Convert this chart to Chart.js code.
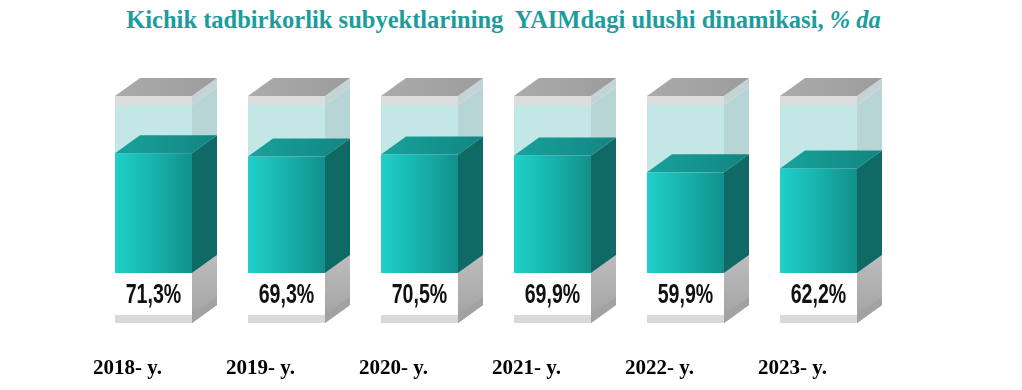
<!DOCTYPE html>
<html lang="uz">
<head>
<meta charset="UTF-8">
<script src="https://cdn.jsdelivr.net/npm/chart.js"></script>
<style>
body { margin: 0; background: #fff; }
.wrap { position: relative; width: 1022px; height: 390px; }
.title {
    position: absolute;
    top: 6px;
    left: 0;
    width: 1007px;
    text-align: center;
    font-family: "Liberation Serif", serif;
    font-weight: bold;
    font-size: 24.5px;
    color: #1c9d9d;
    white-space: pre;
}
canvas { position: absolute; top: 0; left: 0; }
</style>
</head>
<body>
<div class="wrap">
    <div class="title">Kichik tadbirkorlik subyektlarining  YAIMdagi ulushi dinamikasi, <i>% da</i></div>
    <canvas id="grafik" width="1022" height="390"></canvas>
</div>
<script>
const yillar = ['2018- y.', '2019- y.', '2020- y.', '2021- y.', '2022- y.', '2023- y.'];
const ulush = [71.3, 69.3, 70.5, 69.9, 59.9, 62.2];
const yorliqlar = ['71,3%', '69,3%', '70,5%', '69,9%', '59,9%', '62,2%'];

// 3D "idish" ustunlar
const kub = {
    id: 'kub',
    afterDatasetsDraw(chart) {
        const ctx = chart.ctx;
        const meta = chart.getDatasetMeta(0);
        const ys = chart.scales.y;
        const dx = 25, dy = 18;
        meta.data.forEach((bar, i) => {
            const p = bar.getProps(['x', 'y', 'base', 'width'], true);
            const L = Math.round(p.x - p.width / 2), R = Math.round(p.x + p.width / 2);
            const top = ys.getPixelForValue(100);
            const yv = p.y, b = p.base;
            const boxB = b + 42, bandB = boxB + 8;
            const poly = (pts, fill) => {
                ctx.beginPath();
                ctx.moveTo(pts[0][0], pts[0][1]);
                for (let k = 1; k < pts.length; k++) ctx.lineTo(pts[k][0], pts[k][1]);
                ctx.closePath();
                ctx.fillStyle = fill;
                ctx.fill();
            };
            ctx.save();
            // pastki oq quti
            let g = ctx.createLinearGradient(0, b - dy, 0, bandB);
            g.addColorStop(0, '#bdbdbd');
            g.addColorStop(0.75, '#a8a8a8');
            g.addColorStop(1, '#9c9c9c');
            poly([[R, b], [R + dx, b - dy], [R + dx, bandB - dy], [R, bandB]], g);
            poly([[R, boxB], [R + dx, boxB - dy], [R + dx, bandB - dy], [R, bandB]], '#a2a2a2');
            ctx.fillStyle = '#ffffff';
            ctx.fillRect(L, b, R - L, boxB - b);
            ctx.fillStyle = '#d9d9d9';
            ctx.fillRect(L, boxB, R - L, bandB - boxB);

            // shisha qism
            ctx.fillStyle = '#c3e6e6';
            ctx.fillRect(L, top, R - L, yv - top);
            poly([[R, top], [R + dx, top - dy], [R + dx, yv - dy], [R, yv]], '#b7d5d5');

            // to'ldirilgan qism
            g = ctx.createLinearGradient(L, 0, R, 0);
            g.addColorStop(0, '#1fd0ca');
            g.addColorStop(0.5, '#17b2ac');
            g.addColorStop(1, '#12908b');
            ctx.fillStyle = g;
            ctx.fillRect(L, yv, R - L, b - yv);
            poly([[R, yv], [R + dx, yv - dy], [R + dx, b - dy], [R, b]], '#0f6a66');
            g = ctx.createLinearGradient(L, 0, R + dx, 0);
            g.addColorStop(0, '#18a29c');
            g.addColorStop(1, '#128581');
            poly([[L, yv], [L + dx, yv - dy], [R + dx, yv - dy], [R, yv]], g);

            // qopqoq
            ctx.fillStyle = '#dddddd';
            ctx.fillRect(L, top - 9, R - L, 9);
            poly([[R, top - 9], [R + dx, top - 9 - dy], [R + dx, top - dy], [R, top]], '#c4d4d4');
            g = ctx.createLinearGradient(L, 0, R + dx, 0);
            g.addColorStop(0, '#ababab');
            g.addColorStop(1, '#9c9c9c');
            poly([[L, top - 9], [L + dx, top - 9 - dy], [R + dx, top - 9 - dy], [R, top - 9]], g);

            // qiymat
            ctx.translate(p.x, b + 21);
            ctx.scale(0.7, 1);
            ctx.font = 'bold 28px "Liberation Sans", Arial, sans-serif';
            ctx.textAlign = 'center';
            ctx.textBaseline = 'middle';
            ctx.fillStyle = '#111';
            ctx.fillText(yorliqlar[i], 0, 1);
            ctx.restore();
        });
    }
};

new Chart(document.getElementById('grafik'), {
    type: 'bar',
    data: {
        labels: yillar,
        datasets: [{
            data: ulush,
            backgroundColor: 'rgba(0,0,0,0)',
            categoryPercentage: 1,
            barPercentage: 0.58
        }]
    },
    options: {
        responsive: false,
        animation: false,
        layout: { padding: { top: 105, bottom: 10, left: 87, right: 137 } },
        plugins: { legend: { display: false }, tooltip: { enabled: false } },
        scales: {
            y: { display: false, min: 0, max: 100 },
            x: {
                grid: { display: false, drawTicks: false },
                border: { display: false },
                afterFit(scale) { scale.height = 107; },
                ticks: {
                    padding: 83,
                    labelOffset: -26,
                    color: '#000',
                    font: { family: '"Liberation Serif", serif', weight: 'bold', size: 21 }
                }
            }
        }
    },
    plugins: [kub]
});
</script>
</body>
</html>
